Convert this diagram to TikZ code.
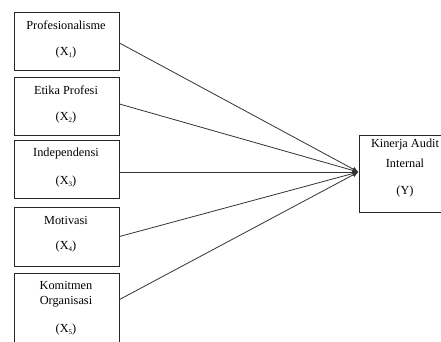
\documentclass[tikz,border=0pt]{standalone}
\usepackage{fontspec}
\setmainfont{Liberation Serif}
\usetikzlibrary{arrows.meta}
\newcommand{\mysub}[1]{\raisebox{-0.25ex}{\fontsize{7}{8}\selectfont #1}}
\begin{document}
\begin{tikzpicture}[x=1pt,y=-1pt,
  box/.style={draw=black!85,line width=0.9pt,inner sep=0pt},
  lbl/.style={inner sep=0pt,font=\fontsize{12.3}{14}\selectfont,text=black},
  conn/.style={draw=black!80,line width=0.8pt,-{Latex[length=6pt,width=5pt]}}]
\useasboundingbox (0,0) rectangle (441,341);
\clip (0,0) rectangle (441,341);
\node[box,minimum width=105,minimum height=58] (b1) at (66.5,41) {};
\node[box,minimum width=105,minimum height=58] (b2) at (66.5,106) {};
\node[box,minimum width=105,minimum height=58] (b3) at (66.5,169) {};
\node[box,minimum width=105,minimum height=59] (b4) at (66.5,236.5) {};
\node[box,minimum width=105,minimum height=76] (b5) at (66.5,311) {};
\node[box,minimum width=88,minimum height=77] (y) at (403,173.5) {};
\node[lbl] (t1) at (66,25) {Profesionalisme};
\node[lbl] (s1) at (66,53) {(X\mysub{1})};
\node[lbl] (t2) at (66,90) {Etika Profesi};
\node[lbl] (s2) at (66,118) {(X\mysub{2})};
\node[lbl] (t3) at (66,154) {Independensi};
\node[lbl] (s3) at (66,182) {(X\mysub{3})};
\node[lbl] (t4) at (66,220) {Motivasi};
\node[lbl] (s4) at (66,247) {(X\mysub{4})};
\node[lbl] (t5) at (66,285) {Komitmen};
\node[lbl] (u5) at (66,302) {Organisasi};
\node[lbl] (s5) at (66,330) {(X\mysub{5})};
\node[lbl] (ty) at (405,145) {Kinerja Audit};
\node[lbl] (uy) at (405,163) {Internal};
\node[lbl] (sy) at (405,192) {(Y)};
\coordinate (tip) at (358.5,172);
\coordinate (e5) at ([yshift=-27]b5.north east);
\draw[conn] ([yshift=-2]b1.east) -- (tip);
\draw[conn] ([yshift=2]b2.east) -- (tip);
\draw[conn] ([yshift=-3]b3.east) -- (tip);
\draw[conn] (b4.east) -- (tip);
\draw[conn] (e5) -- (tip);
\end{tikzpicture}
\end{document}
